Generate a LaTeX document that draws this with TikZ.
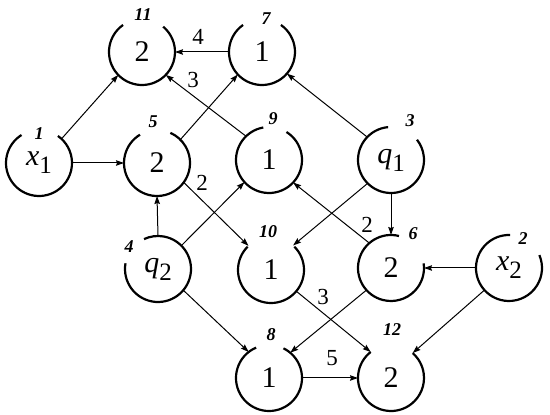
\documentclass[tikz,border=0pt]{standalone}
\usepackage{fontspec}
\setmainfont{Liberation Serif}
\usetikzlibrary{arrows.meta}
\newcommand\vsub[2]{{\itshape #1}\raisebox{-8pt}{\fontsize{25}{25}\selectfont #2}}
\begin{document}
\begin{tikzpicture}[x=1pt,y=1pt,
  vtx/.style={circle,minimum size=66pt,inner sep=0pt,outer sep=0pt,font=\fontsize{30}{30}\selectfont},
  ring/.style={line width=2.2pt},
  lbl/.style={font=\fontsize{18}{18}\selectfont\bfseries\itshape,inner sep=0pt},
  wt/.style={font=\fontsize{23}{23}\selectfont,inner sep=0pt},
  arr/.style={line width=1pt,-{Stealth[length=8pt,width=5.5pt,inset=1pt]}}]
\useasboundingbox (0,0) rectangle (550,415);
% vertices
\node[vtx] (n11) at (142,363) {2};
\node[vtx] (n7)  at (262,363) {1};
\node[vtx] (n1)  at (39,252)  {\vsub{x}{1}};
\node[vtx] (n5)  at (157,252) {2};
\node[vtx] (n9)  at (269,255) {1};
\node[vtx] (n3)  at (391,255) {\vsub{q}{1}};
\node[vtx] (n4)  at (158,146) {\vsub{q}{2}};
\node[vtx] (n10) at (271,145) {1};
\node[vtx] (n6)  at (391,147) {2};
\node[vtx] (n2)  at (509,147) {\vsub{x}{2}};
\node[vtx] (n8)  at (269,37)  {1};
\node[vtx] (n12) at (391,37)  {2};
% rings with gaps
\draw[ring] (n11.125) arc[start angle=125,end angle=410,radius=33];
\draw[ring] (n7.125)  arc[start angle=125,end angle=415,radius=33];
\draw[ring] (n1.122)  arc[start angle=122,end angle=415,radius=33];
\draw[ring] (n5.121)  arc[start angle=121,end angle=426,radius=33];
\draw[ring] (n9.100)  arc[start angle=100,end angle=418,radius=33];
\draw[ring] (n3.95)   arc[start angle=95,end angle=398,radius=33];
\draw[ring] (n4.170)  arc[start angle=170,end angle=475,radius=33];
\draw[ring] (n10.135) arc[start angle=135,end angle=405,radius=33];
\draw[ring] (n6.76)   arc[start angle=76,end angle=368,radius=33];
\draw[ring] (n2.88)   arc[start angle=88,end angle=383,radius=33];
\draw[ring] (n8.113)  arc[start angle=113,end angle=424,radius=33];
\draw[ring] (n12.128) arc[start angle=128,end angle=409,radius=33];
% vertex labels
\node[lbl] (l11) at (143,400) {11};
\node[lbl] (l7)  at (266,396) {7};
\node[lbl] (l1)  at (39,281)  {1};
\node[lbl] (l5)  at (153,293) {5};
\node[lbl] (l9)  at (273,296) {9};
\node[lbl] (l3)  at (410,294) {3};
\node[lbl] (l4)  at (129,168) {4};
\node[lbl] (l10) at (268,183) {10};
\node[lbl] (l6)  at (413,181) {6};
\node[lbl] (l2)  at (523,176) {2};
\node[lbl] (l8)  at (271,80)  {8};
\node[lbl] (l12) at (392,85)  {12};
% edges
\draw[arr] (n1.47)   -- (n11.224);
\draw[arr] (n1.0)    -- (n5.180);
\draw[arr] (n7.180)  -- (n11.0);
\draw[arr] (n9.134)  -- (n11.-44);
\draw[arr] (n5.45)   -- (n7.223);
\draw[arr] (n5.-36)  -- (n10.133);
\draw[arr] (n4.90)   -- (n5.-90);
\draw[arr] (n4.45)   -- (n9.222);
\draw[arr] (n4.-40)  -- (n8.128);
\draw[arr] (n3.136)  -- (n7.-41);
\draw[arr] (n3.-135) -- (n10.48);
\draw[arr] (n3.-90)  -- (n6.90);
\draw[arr] (n6.131)  -- (n9.-43);
\draw[arr] (n2.180)  -- (n6.0);
\draw[arr] (n2.222)  -- (n12.49);
\draw[arr] (n6.-138) -- (n8.50);
\draw[arr] (n10.-40) -- (n12.128);
\draw[arr] (n8.0)    -- (n12.180);
% edge weights
\node[wt] (w4)  at (198,378) {4};
\node[wt] (w3a) at (193,335) {3};
\node[wt] (w2a) at (202,232) {2};
\node[wt] (w2b) at (367,190) {2};
\node[wt] (w3b) at (323,118) {3};
\node[wt] (w5)  at (332,57)  {5};
\end{tikzpicture}
\end{document}
